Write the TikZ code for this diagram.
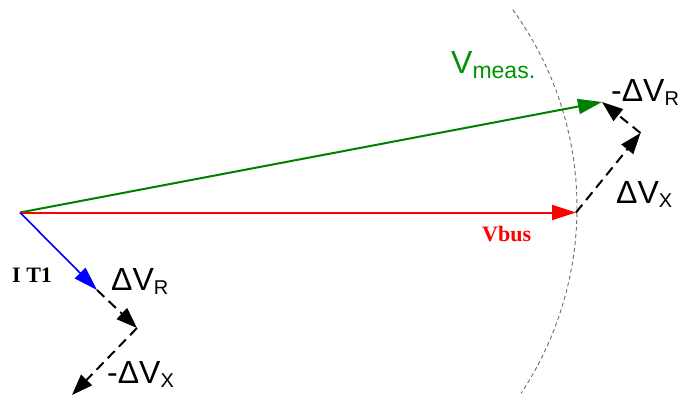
\documentclass[tikz,border=0pt]{standalone}
\usepackage{fontspec}
\setmainfont{Liberation Sans}
\newfontfamily\serifbf{Liberation Serif}
\usetikzlibrary{arrows.meta}
\begin{document}
\begin{tikzpicture}[x=1pt,y=-1pt,
  vec/.style={line width=2pt,-{Triangle[length=24pt,width=15pt]}},
  dvec/.style={line width=2pt,dash pattern=on 10pt off 6pt,-{Triangle[length=21pt,width=15pt]}},
  lab/.style={anchor=base west,inner sep=0pt,font=\fontsize{32}{32}\selectfont},
  blab/.style={anchor=base west,inner sep=0pt,font=\serifbf\bfseries\fontsize{22}{22}\selectfont}]
\useasboundingbox (0,0) rectangle (681,399);
\coordinate (O) at (20,212.5);
\coordinate (Bus) at (576,212.5);
\coordinate (Meas) at (602,102);
\coordinate (P) at (640.5,133);
\coordinate (B1) at (97,290);
\coordinate (B2) at (137,328);
\coordinate (B3) at (72,395);
\coordinate (C) at (240.4,207.5);
% circle arc
\draw[gray!85!black,line width=0.9pt,dash pattern=on 4pt off 3pt] ([shift={(36:336.6pt)}]C) arc[start angle=36,end angle=-33.5,radius=336.6pt];
% vectors
\draw[vec,green!50!black] (O) -- (Meas);
\draw[vec,red] (O) -- (Bus);
\draw[vec,blue,line width=1.6pt] (O) -- (B1);
\draw[dvec] (Bus) -- (P);
\draw[dvec] (P) -- (Meas);
\draw[dvec] (B1) -- (B2);
\draw[dvec] (B2) -- (B3);
% labels
\node[lab,text=green!58!black] (lm) at (451,73) {V\raisebox{-5pt}{\fontsize{23}{23}\selectfont meas.}};
\node[lab] (ldr1) at (611,101) {-ΔV\raisebox{-4pt}{\fontsize{20}{20}\selectfont R}};
\node[lab] (ldx1) at (616,203) {ΔV\raisebox{-4pt}{\fontsize{20}{20}\selectfont X}};
\node[lab] (ldr2) at (111,290) {ΔV\raisebox{-4pt}{\fontsize{20}{20}\selectfont R}};
\node[lab] (ldx2) at (107,383) {-ΔV\raisebox{-4pt}{\fontsize{20}{20}\selectfont X}};
\node[blab,text=red] (lbus) at (482,241) {Vbus};
\node[blab] (lit) at (12,282) {I T1};
\end{tikzpicture}
\end{document}
